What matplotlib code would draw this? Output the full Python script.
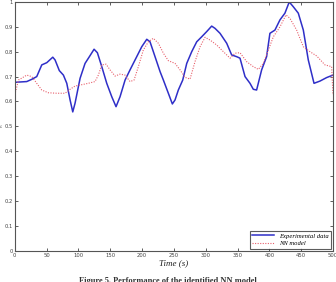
import matplotlib
matplotlib.use("Agg")
import matplotlib.pyplot as plt

# Experimental data (blue solid)
t_exp = [0, 18.8, 26.7, 34.5, 42.4, 50.3, 59.7, 63.3, 70, 76.4, 81.7, 86.9, 91.1, 94.7,
         102.6, 110.4, 117.2, 124.6, 129.8, 136.7, 144.5, 152.4, 159.1, 165.4, 173.3,
         181.1, 191.6, 199.5, 207.4, 212.5, 220.4, 228.3, 233.5, 241.3, 247.6, 251.8,
         257, 263.9, 270.2, 278, 285.9, 293.7, 301.6, 309.4, 314.6, 322.5, 333, 340.8,
         348.7, 353.9, 361.8, 369.6, 374.8, 380, 387.9, 395.7, 400.9, 408.8, 416.7,
         424.5, 431.3, 437.6, 445.5, 453.4, 461.2, 470.2, 479.6, 490, 500]
v_exp = [0.677, 0.68, 0.689, 0.70, 0.747, 0.756, 0.778, 0.767, 0.724, 0.706, 0.673, 0.606,
         0.558, 0.593, 0.693, 0.753, 0.78, 0.81, 0.796, 0.74, 0.673, 0.619, 0.579, 0.619,
         0.686, 0.727, 0.78, 0.82, 0.85, 0.84, 0.78, 0.72, 0.686, 0.633, 0.59, 0.606,
         0.646, 0.686, 0.753, 0.80, 0.84, 0.86, 0.881, 0.903, 0.894, 0.874, 0.834, 0.787,
         0.78, 0.774, 0.70, 0.673, 0.649, 0.646, 0.727, 0.78, 0.874, 0.887, 0.928, 0.955,
         1.0, 0.981, 0.955, 0.887, 0.767, 0.673, 0.682, 0.696, 0.706]

# NN model (red dotted)
t_nn = [0, 5.8, 18.8, 26.7, 34.5, 42.4, 52.8, 66, 79, 86.9, 94.7, 102.6, 115.6, 126.1,
        131.3, 136.7, 143.4, 149.7, 157.6, 165.4, 173.3, 181.1, 187.4, 194.2, 202, 209.9,
        217.7, 225.6, 233.5, 241.3, 251.8, 259.7, 267.5, 275.4, 283.2, 291.1, 299, 306.8,
        317.3, 327.8, 338.3, 346.1, 353.9, 364.4, 374.8, 382.7, 390.5, 398.4, 406.3,
        416.7, 426.2, 432.4, 442.9, 453.4, 463.9, 474.4, 487.4, 497.9, 500]
v_nn = [0.626, 0.686, 0.706, 0.70, 0.673, 0.646, 0.635, 0.633, 0.633, 0.649, 0.662, 0.666,
        0.673, 0.68, 0.706, 0.747, 0.75, 0.727, 0.702, 0.71, 0.706, 0.68, 0.686, 0.74,
        0.807, 0.84, 0.854, 0.834, 0.794, 0.764, 0.753, 0.727, 0.697, 0.69, 0.76, 0.82,
        0.858, 0.847, 0.827, 0.80, 0.774, 0.794, 0.796, 0.76, 0.74, 0.729, 0.753, 0.807,
        0.86, 0.90, 0.948, 0.934, 0.887, 0.82, 0.80, 0.783, 0.747, 0.74, 0.626]

x_ticks = [0, 50, 100, 150, 200, 250, 300, 350, 400, 450, 500]
y_ticks = [0, 0.1, 0.2, 0.3, 0.4, 0.5, 0.6, 0.7, 0.8, 0.9, 1]
y_ticklabels = ["0", "0.1", "0.2", "0.3", "0.4", "0.5", "0.6", "0.7", "0.8", "0.9", "1"]

fig = plt.figure(figsize=(3.36, 2.82), dpi=100)
ax = fig.add_axes([0.044, 0.111, 0.947, 0.882])

ax.plot(t_exp, v_exp, color="#2f2fc8", lw=1.1, label="Experimental data")
ax.plot(t_nn, v_nn, color="#e8606c", lw=0.8, ls=(0, (1, 1.3)), label="NN model")

ax.set_xlim(0, 500)
ax.set_ylim(0, 1)
ax.set_xticks(x_ticks)
ax.set_yticks(y_ticks)
ax.set_yticklabels(y_ticklabels)
ax.tick_params(direction="in", top=True, right=True, length=2.5, width=0.6,
               labelsize=3.8, pad=1.5, colors="#444444")
for s in ax.spines.values():
    s.set_linewidth(0.8)
    s.set_color("#555555")

ax.set_xlabel("Time (s)", fontsize=6.5, family="Liberation Serif", style="italic",
              labelpad=1, color="#222222")

leg = ax.legend(loc="lower right", prop={"family": "Liberation Serif", "style": "italic",
                                          "size": 4.8},
                frameon=True, fancybox=False, edgecolor="#333333", borderpad=0.35,
                handlelength=3.2, labelspacing=0.3, borderaxespad=0.3)
leg.get_frame().set_linewidth(0.8)

fig.text(0.0, 0.553, "h", fontsize=3.0, rotation=90, va="center", ha="left", color="#555555")
fig.text(0.5, 0.019, "Figure 5. Performance of the identified NN model", fontsize=6,
         family="Liberation Serif", weight="bold", ha="center", va="top", color="#333333")

fig.savefig("out.png", dpi=100)
